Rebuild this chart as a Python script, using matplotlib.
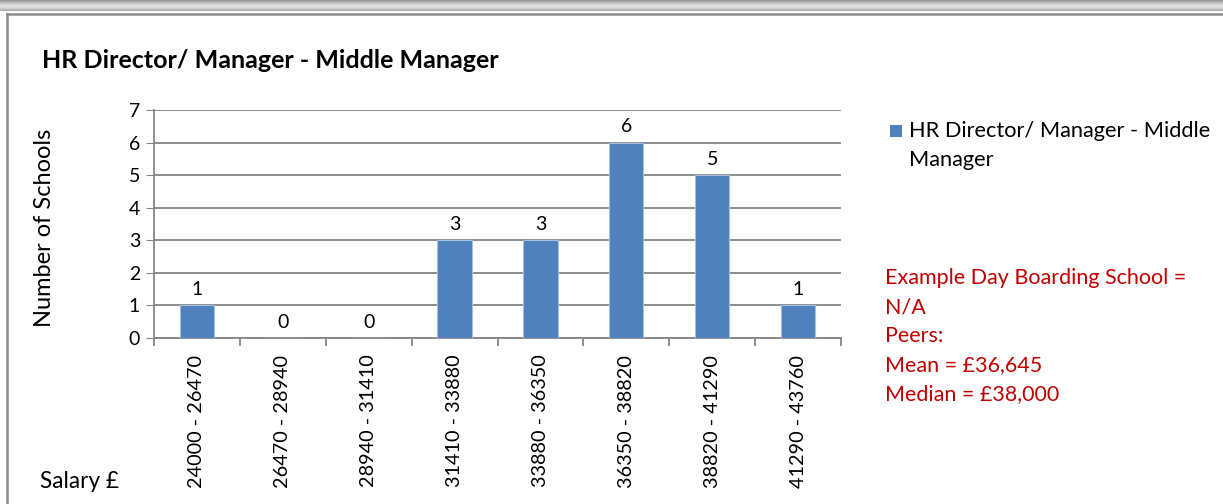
import matplotlib.pyplot as plt
from matplotlib.patches import Rectangle
import matplotlib.lines as mlines
import numpy as np

# salary bands and number of schools in each band
faixas = ['24000 - 26470', '26470 - 28940', '28940 - 31410', '31410 - 33880',
          '33880 - 36350', '36350 - 38820', '38820 - 41290', '41290 - 43760']
escolas = [1, 0, 0, 3, 3, 6, 5, 1]
titulo = 'HR Director/ Manager - Middle Manager'
notas = ['Example Day Boarding School =', 'N/A', 'Peers:',
         'Mean = £36,645', 'Median = £38,000']

plt.rcParams['font.family'] = ['Lato', 'DejaVu Sans']
cor_barra = '#4f81bd'
cor_eixo = '#868686'

fig = plt.figure(figsize=(12.23, 5.04), dpi=100)
W, H = 1223, 504

# moldura cinza e a sombra do quadro de cima
for i, c in enumerate(['#9a9a9a', '#a8a8a8', '#b8b8b8', '#c8c8c8', '#d4d4d4', '#dcdcdc',
                       '#e2e2e2', '#d8d8d8', '#cccccc', '#bdbdbd', '#aaaaaa']):
    fig.patches.append(Rectangle((0, 1 - (i + 1) / H), 1, 1 / H, transform=fig.transFigure,
                                 facecolor=c, edgecolor='none', zorder=0))
fig.lines.append(mlines.Line2D([7 / W, 7 / W], [0, 1 - 14 / H], transform=fig.transFigure,
                               color='#8c8c8c', lw=1.8))
fig.lines.append(mlines.Line2D([7 / W, 1], [1 - 14 / H, 1 - 14 / H], transform=fig.transFigure,
                               color='#8c8c8c', lw=1.8))

ax = fig.add_axes([154 / W, 1 - 338 / H, (841 - 154) / W, (338 - 110) / H])
x = np.arange(len(faixas))
ax.bar(x, escolas, width=0.4, color=cor_barra, edgecolor='#a7bfde', linewidth=0.8, zorder=3)

for xi, v in zip(x, escolas):
    ax.text(xi, v + 0.22, str(v), ha='center', va='bottom', fontsize=14, color='black')

ax.set_xlim(-0.5, len(faixas) - 0.5)
ax.set_ylim(0, 7)
ax.set_yticks(range(0, 8))
ax.tick_params(axis='y', length=6, color=cor_eixo, labelsize=14, pad=4)
ax.grid(True, axis='y', color=cor_eixo, linewidth=1.3, zorder=0)

ax.set_xticks(x)
ax.set_xticklabels(faixas, rotation=90, fontsize=14.3)
ax.tick_params(axis='x', length=0, pad=12)
ax.set_xticks(np.arange(-0.5, len(faixas)), minor=True)
ax.tick_params(axis='x', which='minor', length=6, color=cor_eixo, width=1.3)

for lado in ['top', 'right']:
    ax.spines[lado].set_visible(False)
for lado in ['left', 'bottom']:
    ax.spines[lado].set_color(cor_eixo)
    ax.spines[lado].set_linewidth(1.3)

fig.text(42 / W, 1 - 60 / H, titulo, fontsize=18, fontweight='bold', va='center')
fig.text(45 / W, 1 - 228 / H, 'Number of Schools', rotation=90, fontsize=17,
         ha='center', va='center')
fig.text(40 / W, 1 - 481 / H, 'Salary £', fontsize=16.3, va='center')

# legenda
fig.patches.append(Rectangle((890 / W, 1 - 137 / H), 12 / W, 12 / H, transform=fig.transFigure,
                             facecolor=cor_barra, edgecolor='none'))
fig.text(909 / W, 1 - 131 / H, 'HR Director/ Manager - Middle', fontsize=15.7, va='center')
fig.text(909 / W, 1 - 160 / H, 'Manager', fontsize=15.7, va='center')

for i, linha in enumerate(notas):
    fig.text(885 / W, 1 - (278 + 29 * i) / H, linha, fontsize=15.5, va='center', color='#c00000')

fig.savefig('out.png', dpi=100)
